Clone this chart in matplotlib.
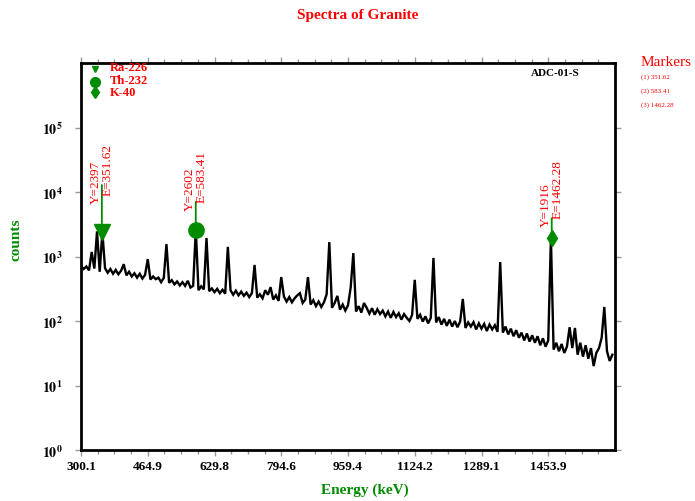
import numpy as np
import matplotlib
matplotlib.use("Agg")
import matplotlib.pyplot as plt
from matplotlib.ticker import FixedLocator

plt.rcParams['font.family'] = 'serif'
plt.rcParams['font.serif'] = ['Liberation Serif', 'DejaVu Serif']
plt.rcParams['mathtext.fontset'] = 'stix'

# ---------------- data ----------------
energy_start = 300.1          # keV of channel 0
kev_per_channel = 6.592       # calibration gain
counts = [
    720, 640, 700, 610, 1175, 650, 2450, 580, 2397, 660,
    560, 640, 540, 620, 530, 600, 760, 510, 580, 490,
    550, 470, 540, 455, 520, 910, 440, 490, 445, 470,
    400, 465, 1560, 390, 430, 370, 410, 355, 400, 350,
    420, 330, 350, 2602, 300, 345, 310, 1940, 290, 320,
    280, 315, 270, 305, 265, 1410, 300, 255, 295, 250,
    285, 245, 275, 235, 270, 740, 230, 260, 225, 300,
    255, 335, 215, 250, 205, 480, 240, 200, 235, 195,
    225, 250, 270, 190, 215, 480, 180, 210, 170, 200,
    165, 195, 260, 1670, 160, 190, 245, 150, 180, 145,
    175, 330, 1130, 140, 170, 135, 190, 160, 130, 158,
    125, 152, 128, 145, 118, 140, 112, 138, 115, 132,
    105, 128, 112, 100, 124, 435, 108, 125, 98, 118,
    92, 112, 950, 95, 115, 88, 108, 84, 105, 82,
    100, 80, 98, 220, 78, 95, 82, 96, 74, 92,
    76, 90, 70, 88, 74, 86, 68, 820, 66, 82,
    62, 76, 58, 72, 55, 66, 50, 64, 48, 60,
    46, 58, 42, 54, 40, 50, 1916, 36, 46, 34,
    44, 32, 40, 80, 38, 78, 30, 46, 28, 42,
    26, 38, 20, 32, 38, 55, 165, 34, 24, 30,
]
energy = energy_start + kev_per_channel * np.arange(len(counts))

x_min, x_max = 300.1, 1618.5
x_major = [300.1, 464.9, 629.8, 794.6, 959.4, 1124.2, 1289.1, 1453.9]
y_decades = [0, 1, 2, 3, 4, 5]

iso_names = ['Ra-226', 'Th-232', 'K-40']
iso_markers = ['v', 'o', 'd']
marker_E = [351.62, 583.41, 1462.28]
marker_Y = [2397, 2602, 1916]
marker_labels = ['(1) 351.62', '(2) 583.41', '(3) 1462.28']

# ---------------- figure ----------------
W, H = 695, 502
fig = plt.figure(figsize=(W / 100, H / 100), dpi=100)
fig.patch.set_facecolor('white')

def fp(x, y):
    return (x / W, 1 - y / H)

L, R, T, B = 81, 615, 64, 451
ax = fig.add_axes([L / W, 1 - B / H, (R - L) / W, (B - T) / H])

RED = '#ff0000'
GREEN = '#008c00'

ax.plot(energy, counts, color='black', lw=1.7, zorder=3, solid_joinstyle='miter')

ax.set_yscale('log')
ax.set_xlim(x_min, x_max)
ax.set_ylim(1, 1e6)

ax.xaxis.set_major_locator(FixedLocator(x_major))
ax.set_xticklabels([f'{v:.1f}' for v in x_major])
ax.xaxis.set_minor_locator(FixedLocator(
    [x_min + 41.2 * k for k in range(33) if k % 4 != 0]))
ax.yaxis.set_major_locator(FixedLocator([10.0 ** d for d in y_decades]))
ax.set_yticklabels([r'$\mathbf{10^{%d}}$' % d for d in y_decades])
ax.yaxis.set_minor_locator(FixedLocator([]))

ax.tick_params(which='both', direction='out', color='#999999', width=1,
               top=True, right=True, labelsize=9.5)
ax.tick_params(which='major', length=4)
ax.tick_params(which='minor', length=3)
ax.tick_params(axis='x', pad=3)
ax.tick_params(axis='y', pad=9, labelsize=10)
for lab in ax.get_xticklabels():
    lab.set_fontweight('bold')

for sp in ax.spines.values():
    sp.set_linewidth(2)
    sp.set_color('black')

# peak markers with stems and annotations
stem_px = [47, 28, 20]
y_text_drop = [-18, -8, -8]
e_text_lift = [-10, 0, 0]
for E, Y, m, sp_len, yd, el in zip(marker_E, marker_Y, iso_markers, stem_px,
                                   y_text_drop, e_text_lift):
    ms = {'v': 12, 'o': 11, 'd': 8}[m]
    ax.plot([E], [Y], marker=m, color=GREEN, ms=ms, mec=GREEN, zorder=5,
            clip_on=False)
    ax.annotate('', xy=(E, Y), xytext=(0, sp_len * 0.72), textcoords='offset points',
                xycoords='data',
                arrowprops=dict(arrowstyle='-', color=GREEN, lw=1.3,
                                shrinkA=0, shrinkB=0))
    ax.annotate(f'Y={Y}', xy=(E, Y), xytext=(-4, (sp_len + yd) * 0.72),
                textcoords='offset points', rotation=90, ha='center', va='bottom',
                color=RED, fontsize=9.5)
    ax.annotate(f'E={E:.2f}', xy=(E, Y), xytext=(4, (sp_len + el) * 0.72),
                textcoords='offset points', rotation=90, ha='center', va='bottom',
                color=RED, fontsize=9.5)

# legend inside plot
for m, yy in zip(iso_markers, [70, 83, 93]):
    ms = {'v': 5, 'o': 7, 'd': 6}[m]
    fig.add_artist(plt.Line2D([95 / W], [1 - yy / H], marker=m, color=GREEN,
                              ms=ms, ls='none', transform=fig.transFigure))
for name, yy in zip(iso_names, [68, 81, 93]):
    fig.text(*fp(110, yy), name, color=RED, fontsize=9, fontweight='bold',
             ha='left', va='center')

fig.text(*fp(555, 74), 'ADC-01-S', color='black', fontsize=8,
         fontweight='bold', ha='center', va='center')

# titles / labels
fig.text(*fp(358, 16), 'Spectra of Granite', color=RED, fontsize=11,
         fontweight='bold', ha='center', va='center')
fig.text(*fp(365, 490), 'Energy (keV)', color=GREEN, fontsize=11,
         fontweight='bold', ha='center', va='center')
fig.text(*fp(16, 240), 'counts', color=GREEN, fontsize=11, fontweight='bold',
         ha='center', va='center', rotation=90)

# marker panel on the right
fig.text(*fp(641, 62), 'Markers', color=RED, fontsize=11, ha='left',
         va='center')
for lab, yy in zip(marker_labels, [77, 91, 105]):
    fig.text(*fp(641, yy), lab, color=RED, fontsize=5, ha='left', va='center')

fig.savefig('out.png', dpi=100)
